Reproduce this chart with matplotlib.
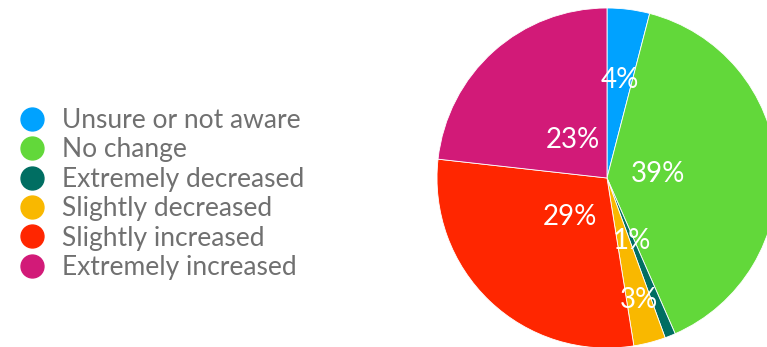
import numpy as np
import matplotlib.pyplot as plt
from matplotlib.lines import Line2D

categories = ['Unsure or not aware', 'No change', 'Extremely decreased',
              'Slightly decreased', 'Slightly increased', 'Extremely increased']
shares = [4, 39, 1, 3, 29, 23]
colors = ['#00a2ff', '#62d83a', '#006e62', '#f9b800', '#ff2600', '#d21a78']

# how far out along each wedge the percentage sits (fraction of radius)
label_radius = [0.58, 0.30, 0.40, 0.74, 0.32, 0.30]

plt.rcParams['font.family'] = ['Lato', 'DejaVu Sans']

fig = plt.figure(figsize=(7.67, 3.47), dpi=100)

# pie: centre at (607, 178) px, radius 170 px
ax = fig.add_axes([437 / 767, -1 / 347, 340 / 767, 340 / 347])
wedges, _ = ax.pie(shares, colors=colors, startangle=90, counterclock=False,
                   radius=1, wedgeprops=dict(edgecolor='white', linewidth=0.6))
ax.set_xlim(-1, 1)
ax.set_ylim(-1, 1)
ax.set_aspect('equal')
ax.axis('off')

for w, val, r in zip(wedges, shares, label_radius):
    mid = np.deg2rad((w.theta1 + w.theta2) / 2)
    ax.text(r * np.cos(mid), r * np.sin(mid), f'{val}%', color='white',
            fontsize=20, ha='center', va='center')

handles = [Line2D([], [], marker='o', linestyle='none', markersize=16.5,
                  markerfacecolor=c, markeredgecolor=c) for c in colors]
leg = fig.legend(handles, categories, loc='center left',
                 bbox_to_anchor=(19 / 767, (347 - 194) / 347), frameon=False,
                 fontsize=19, labelspacing=0.165, handletextpad=0.64,
                 borderpad=0, borderaxespad=0, handlelength=1.0)
for t in leg.get_texts():
    t.set_color('#707070')

fig.savefig('out.png', dpi=100)
